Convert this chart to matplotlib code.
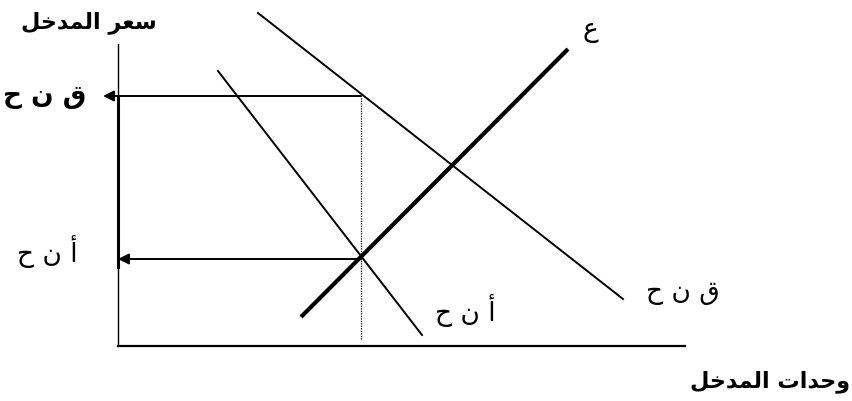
import matplotlib
matplotlib.use('Agg')
import matplotlib.pyplot as plt

# Arabic labels, already shaped (presentation forms) and in visual order
y_title = '\uFEDE\uFEA7\uFEAA\uFEE4\uFEDF\uFE8D \uFEAE\uFECC\uFEB3'      # سعر المدخل
x_title = '\uFEDE\uFEA7\uFEAA\uFEE4\uFEDF\uFE8D \uFE95\uFE8D\uFEAA\uFEA3\uFEED'  # وحدات المدخل
mrp_label = '\uFEA1 \uFEE5 \uFED5'   # ق ن ح
mfc_label = '\uFEA1 \uFEE5 \uFE83'   # أ ن ح
s_label = '\uFEC9'                   # ع

# curves (x, y) end points, units of the input
supply_x = [183, 450]
supply_y = [29, 297]
mrp_x = [140, 505]
mrp_y = [333, 47]
mfc_x = [100, 304]
mfc_y = [275, 11]

# equilibrium
q_star = 243
w_mrp = 250
w_mfc = 87

fig = plt.figure(figsize=(8.53, 4.02), dpi=100)
ax = fig.add_axes([0, 0, 1, 1])
ax.set_xlim(-118, 735)
ax.set_ylim(-55, 347)
ax.axis('off')

# axes of the diagram
ax.plot([0, 0], [0, 302], color='black', lw=1.0)
ax.plot([0, 0], [79, w_mrp], color='black', lw=2.2)
ax.plot([0, 567], [0, 0], color='black', lw=1.6)

ax.plot(supply_x, supply_y, color='black', lw=3.0, solid_capstyle='butt')
ax.plot(mrp_x, mrp_y, color='black', lw=1.4)
ax.plot(mfc_x, mfc_y, color='black', lw=1.4)

ax.plot([q_star, q_star], [7, w_mrp], color='black', lw=0.9, ls=(0, (1, 1)))

# arrows to the price axis
ax.annotate('', xy=(-15, w_mrp), xytext=(q_star, w_mrp),
            arrowprops=dict(arrowstyle='-|>', color='black', lw=1.4,
                            mutation_scale=16, shrinkA=0, shrinkB=0))
ax.annotate('', xy=(0, w_mfc), xytext=(q_star, w_mfc),
            arrowprops=dict(arrowstyle='-|>', color='black', lw=1.4,
                            mutation_scale=16, shrinkA=0, shrinkB=0))

ax.text(-29, 324, y_title, fontsize=16, fontweight='bold', ha='center', va='center')
ax.text(652, -35, x_title, fontsize=16, fontweight='bold', ha='center', va='center')
ax.text(-73, 251, mrp_label, fontsize=19, fontweight='bold', ha='center', va='center')
ax.text(-71, 95, mfc_label, fontsize=19, ha='center', va='center')
ax.text(347, 36, mfc_label, fontsize=19, ha='center', va='center')
ax.text(565, 55, mrp_label, fontsize=19, ha='center', va='center')
ax.text(472, 317, s_label, fontsize=19, ha='center', va='center')

fig.savefig('out.png', dpi=100)
